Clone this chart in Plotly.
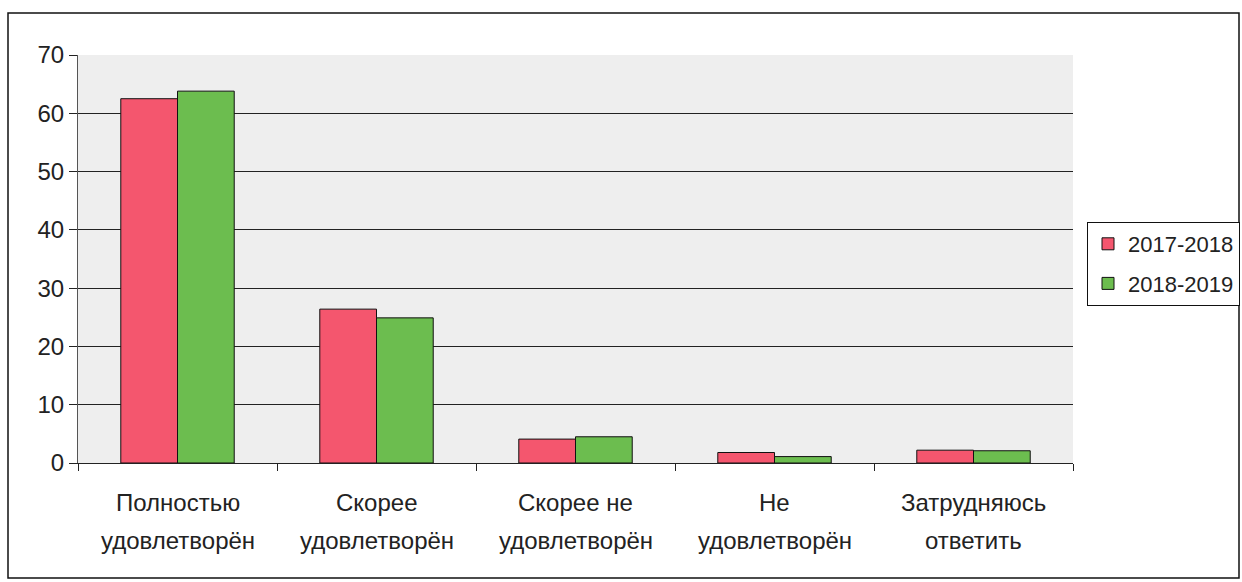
import plotly.graph_objects as go

categories = [
    "Полностью удовлетворён",
    "Скорее удовлетворён",
    "Скорее не удовлетворён",
    "Не удовлетворён",
    "Затрудняюсь ответить",
]
label_lines = [
    ("Полностью", "удовлетворён"),
    ("Скорее", "удовлетворён"),
    ("Скорее не", "удовлетворён"),
    ("Не", "удовлетворён"),
    ("Затрудняюсь", "ответить"),
]
series_names = ["2017-2018", "2018-2019"]
values_2017 = [62.5, 26.4, 4.1, 1.8, 2.2]
values_2018 = [63.8, 24.9, 4.5, 1.1, 2.1]
y_ticks = [0, 10, 20, 30, 40, 50, 60, 70]

colors = ["#f4566e", "#6cbd4f"]

fig = go.Figure()
for name, vals, color in zip(series_names, [values_2017, values_2018], colors):
    fig.add_trace(go.Bar(
        x=categories,
        y=vals,
        name=name,
        legendgroup=name,
        marker=dict(color=color, line=dict(color="#111111", width=1)),
    ))

W, H = 1242, 582
left, right, top, bottom = 78, 169, 55, 119
pw, ph = W - left - right, H - top - bottom


def px_x(x):
    return (x - left) / pw


def px_y(y):
    return (H - bottom - y) / ph


# outer chart border
fig.add_shape(
    type="rect", xref="paper", yref="paper",
    x0=px_x(8), x1=px_x(1239), y0=px_y(578), y1=px_y(13),
    line=dict(color="#111111", width=1.5), layer="below",
)

# two-line category labels with the wide line spacing of the original
for cat, (l1, l2) in zip(categories, label_lines):
    for text, ypix in [(l1, 502), (l2, 540)]:
        fig.add_annotation(
            x=cat, xref="x", y=px_y(ypix), yref="paper",
            text=text, showarrow=False, yanchor="middle",
            font=dict(size=24),
        )

fig.update_layout(
    width=W, height=H,
    margin=dict(l=left, r=right, t=top, b=bottom, autoexpand=False),
    paper_bgcolor="white",
    plot_bgcolor="#eeeeee",
    font=dict(family="Arial, Liberation Sans, sans-serif", size=24, color="#222222"),
    barmode="group",
    bargap=0.43,
    bargroupgap=0,
    legend=dict(
        x=px_x(1087), y=px_y(222), xanchor="left", yanchor="top",
        bordercolor="#111111", borderwidth=1, bgcolor="white",
        font=dict(size=22), tracegroupgap=8, itemwidth=30,
    ),
    xaxis=dict(
        showline=True, linecolor="#222222", linewidth=1,
        ticks="outside", tickson="boundaries", ticklen=7, tickcolor="#222222",
        showgrid=False, showticklabels=False,
    ),
    yaxis=dict(
        range=[0, 70], tickvals=y_ticks,
        showline=True, linecolor="#555555", linewidth=1,
        ticks="outside", ticklen=8, tickcolor="#222222",
        showgrid=True, gridcolor="#222222", gridwidth=1,
        zeroline=False,
    ),
)

fig.write_html(
    "out.html",
    config={"displayModeBar": False},
    post_script="document.body.style.margin='0';",
)
